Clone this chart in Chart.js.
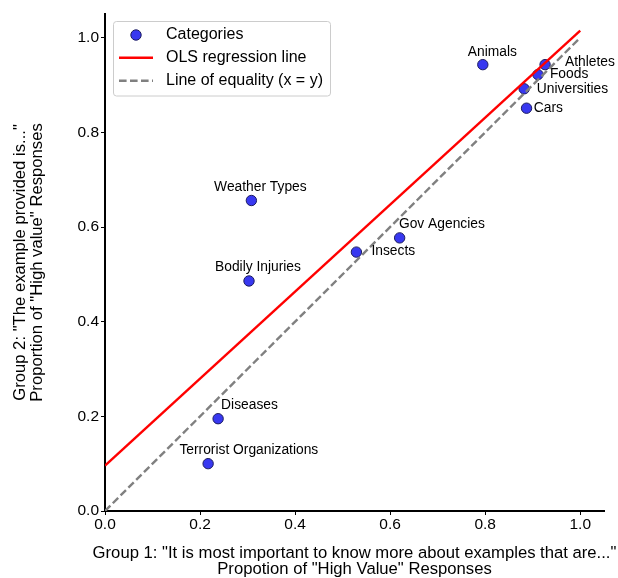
<!DOCTYPE html>
<html>
<head>
<meta charset="utf-8">
<script src="https://cdn.jsdelivr.net/npm/chart.js@4.4.1/dist/chart.umd.min.js"></script>
<style>
  html, body { margin: 0; padding: 0; background: #fff; }
  #chart { display: block; }
</style>
</head>
<body>
<canvas id="chart" width="618" height="578"></canvas>
<script>
// values
const categories = [
  "Animals", "Athletes", "Foods", "Universities", "Cars", "Weather Types",
  "Gov Agencies", "Insects", "Bodily Injuries", "Diseases", "Terrorist Organizations"
];
const group1 = [0.795, 0.926, 0.911, 0.882, 0.887, 0.308, 0.620, 0.529, 0.303, 0.238, 0.217];
const group2 = [0.943, 0.943, 0.922, 0.892, 0.851, 0.656, 0.577, 0.547, 0.486, 0.195, 0.100];

const olsX = [0, 1];
const olsY = [0.096, 1.015];
const equalityX = [0, 1];
const equalityY = [0, 1];

const tickValues = [0, 0.2, 0.4, 0.6, 0.8, 1.0];

const xTitle = ['Group 1: "It is most important to know more about examples that are..."', 'Propotion of "High Value" Responses'];
const yTitle = ['Group 2: "The example provided is..."', 'Proportion of "High value" Responses'];

// label placement next to each point (pixel offset, alignment)
const labelPlacement = {
  "Animals": [9.5, -12.5, "center"],
  "Athletes": [20, -2.5, "left"],
  "Foods": [12, -0.5, "left"],
  "Universities": [12.7, 0, "left"],
  "Cars": [7.3, 0, "left"],
  "Weather Types": [9, -13.4, "center"],
  "Gov Agencies": [-0.7, -14, "left"],
  "Insects": [15, -1.3, "left"],
  "Bodily Injuries": [9, -13.3, "center"],
  "Diseases": [3, -14, "left"],
  "Terrorist Organizations": [40.7, -13.4, "center"]
};

const FONT = "'Liberation Sans', Arial, Helvetica, sans-serif";
Chart.defaults.font.family = FONT;
Chart.defaults.color = "#000";

const toPoints = (xs, ys) => xs.map((x, i) => ({ x: x, y: ys[i] }));

const pointLabels = {
  id: "pointLabels",
  afterDatasetsDraw(chart) {
    const ctx = chart.ctx;
    const meta = chart.getDatasetMeta(0);
    ctx.save();
    ctx.font = "13.8px " + FONT;
    ctx.fillStyle = "#000";
    ctx.textBaseline = "middle";
    meta.data.forEach((pt, i) => {
      const p = labelPlacement[categories[i]] || [0, -13, "center"];
      ctx.textAlign = p[2];
      ctx.fillText(categories[i], pt.x + p[0], pt.y + p[1]);
    });
    ctx.restore();
  }
};

// the x title is wider than the plot, so it is drawn here (Chart.js would squeeze it)
const xAxisTitle = {
  id: "xAxisTitle",
  afterDraw(chart) {
    const ctx = chart.ctx;
    const area = chart.chartArea;
    const cx = (area.left + area.right) / 2;
    ctx.save();
    ctx.font = "16.66px " + FONT;
    ctx.fillStyle = "#000";
    ctx.textAlign = "center";
    ctx.textBaseline = "middle";
    xTitle.forEach((line, i) => {
      ctx.fillText(line, cx, area.bottom + 42 + i * 16.5);
    });
    ctx.restore();
  }
};

const legendBox = {
  id: "legendBox",
  afterDraw(chart) {
    const ctx = chart.ctx;
    const area = chart.chartArea;
    const left = area.left + 8.5;
    const top = area.top + 7.5;
    ctx.save();
    ctx.beginPath();
    ctx.roundRect(left, top, 217, 74.5, 3);
    ctx.fillStyle = "rgba(255,255,255,0.8)";
    ctx.fill();
    ctx.strokeStyle = "#cccccc";
    ctx.lineWidth = 1;
    ctx.stroke();

    const ds = chart.data.datasets;
    const rows = [top + 13.5, top + 36.2, top + 59.2];
    ctx.font = "16px " + FONT;
    ctx.textAlign = "left";
    ctx.textBaseline = "middle";
    ds.forEach((d, i) => {
      const y = rows[i];
      if (d.type === "scatter") {
        ctx.beginPath();
        ctx.arc(left + 22.5, y, 5.2, 0, Math.PI * 2);
        ctx.fillStyle = d.backgroundColor;
        ctx.fill();
        ctx.strokeStyle = d.borderColor;
        ctx.lineWidth = 1;
        ctx.stroke();
      } else {
        ctx.beginPath();
        ctx.setLineDash(d.borderDash || []);
        ctx.moveTo(left + 5.5, y);
        ctx.lineTo(left + 39.5, y);
        ctx.strokeStyle = d.borderColor;
        ctx.lineWidth = d.borderWidth;
        ctx.stroke();
        ctx.setLineDash([]);
      }
      ctx.fillStyle = "#000";
      ctx.fillText(d.label, left + 52.5, y);
    });
    ctx.restore();
  }
};

const axisCommon = {
  type: "linear",
  min: 0,
  max: 1.05,
  afterBuildTicks: (s) => { s.ticks = tickValues.map((v) => ({ value: v })); },
  grid: { drawOnChartArea: false, drawTicks: true, tickLength: 4, tickColor: "#000", tickWidth: 1 },
  border: { display: true, color: "#000", width: 2 }
};

new Chart(document.getElementById("chart"), {
  data: {
    datasets: [
      {
        type: "scatter",
        label: "Categories",
        data: toPoints(group1, group2),
        backgroundColor: "#3838f0",
        borderColor: "#1c1c60",
        borderWidth: 1,
        pointRadius: 5.2,
        order: 3
      },
      {
        type: "line",
        label: "OLS regression line",
        data: toPoints(olsX, olsY),
        borderColor: "#ff0000",
        borderWidth: 2.4,
        pointRadius: 0,
        fill: false,
        order: 2
      },
      {
        type: "line",
        label: "Line of equality (x = y)",
        data: toPoints(equalityX, equalityY),
        borderColor: "#808080",
        borderWidth: 2.4,
        borderDash: [7.6, 3.4],
        pointRadius: 0,
        fill: false,
        order: 1
      }
    ]
  },
  options: {
    responsive: false,
    animation: false,
    devicePixelRatio: 1,
    layout: { padding: { top: 14, right: 14, left: 0, bottom: 0 } },
    plugins: { legend: { display: false }, tooltip: { enabled: false } },
    events: [],
    scales: {
      x: Object.assign({}, axisCommon, {
        position: "bottom",
        ticks: { callback: (v) => Number(v).toFixed(1), font: { size: 15.5 }, color: "#000", padding: 0, maxRotation: 0, autoSkip: false },
        afterFit: (s) => { s.height = 67; }
      }),
      y: Object.assign({}, axisCommon, {
        position: "left",
        ticks: { callback: (v) => Number(v).toFixed(1), font: { size: 15.5 }, color: "#000", padding: 2, autoSkip: false },
        title: { display: true, text: yTitle, font: { size: 16.66, lineHeight: 1.05 }, color: "#000", padding: { top: 11.5, bottom: 0 } },
        afterFit: (s) => { s.width = 105; }
      })
    }
  },
  plugins: [pointLabels, xAxisTitle, legendBox]
});
</script>
</body>
</html>
